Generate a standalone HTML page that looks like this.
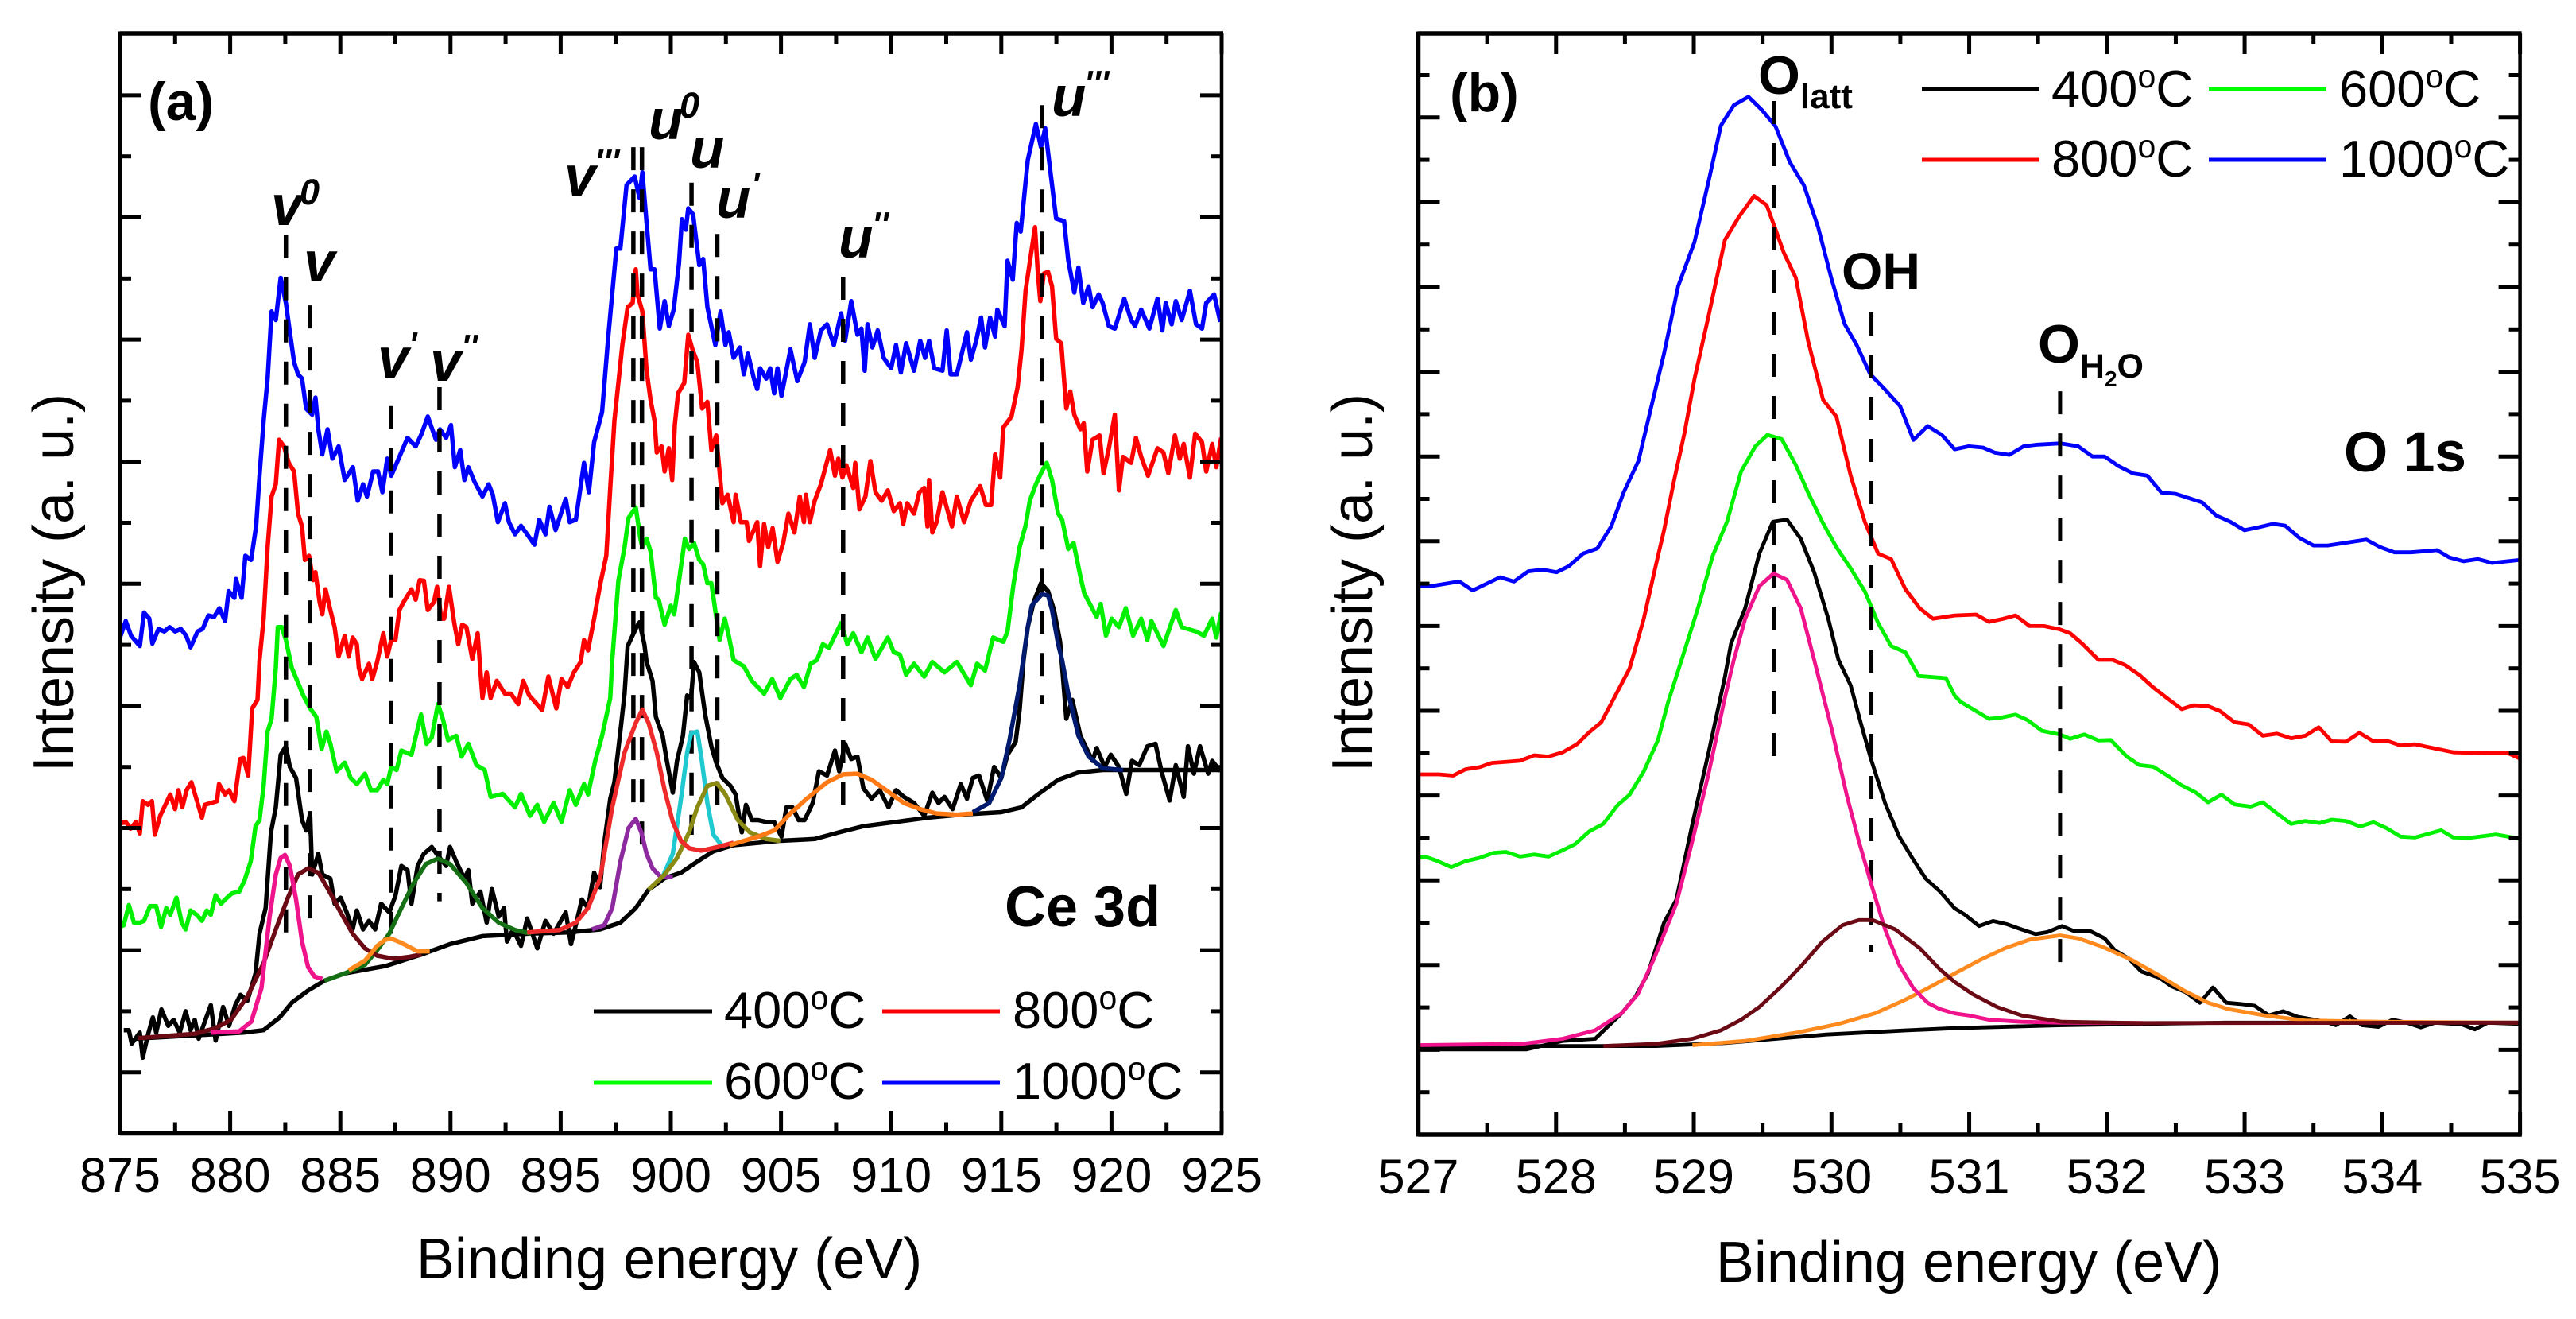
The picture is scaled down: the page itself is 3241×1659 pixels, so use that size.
<!DOCTYPE html>
<html lang="en">
<head>
<meta charset="utf-8">
<title>Ce 3d and O 1s XPS spectra</title>
<style>
html,body{margin:0;padding:0;background:#fff;}
svg{display:block;}
text{font-family:"Liberation Sans",sans-serif;fill:#000;}
.b{font-weight:bold;}
.pk{font-weight:bold;font-style:italic;font-size:71px;}
.tick{font-size:61px;text-anchor:middle;}
.title{font-size:72px;}
.leg{font-size:65px;}
</style>
</head>
<body>
<svg id="fig" xmlns="http://www.w3.org/2000/svg" width="3241" height="1659" viewBox="0 0 3241 1659">
  <rect x="0" y="0" width="3241" height="1659" fill="#fff"/>
  <g id="panelA"></g>
  <g id="panelB"></g>

  <g>
    <text class="title" x="842" y="1608" text-anchor="middle">Binding energy (eV)</text>
    <text class="title" text-anchor="middle" transform="translate(92,733) rotate(-90)">Intensity (a. u.)</text>
    <text class="b" font-size="68" x="186" y="151">(a)</text>
    <text class="b" font-size="72" x="1264" y="1165">Ce 3d</text>
    <text class="pk" x="341" y="283">v</text>
    <text class="pk" style="font-size:45px" x="377" y="257">0</text>
    <text class="pk" x="382" y="354">v</text>
    <text class="pk" x="475" y="475">v</text>
    <text class="pk" style="font-size:44px" x="514" y="448">'</text>
    <text class="pk" x="541" y="479">v</text>
    <text class="pk" style="font-size:44px" x="580" y="451">''</text>
    <text class="pk" x="710" y="246">v</text>
    <text class="pk" style="font-size:44px" x="748" y="218">'''</text>
    <text class="pk" x="816" y="175">u</text>
    <text class="pk" style="font-size:45px" x="855" y="148">0</text>
    <text class="pk" x="868" y="211">u</text>
    <text class="pk" x="901" y="274">u</text>
    <text class="pk" style="font-size:44px" x="945" y="247">'</text>
    <text class="pk" x="1055" y="324">u</text>
    <text class="pk" style="font-size:44px" x="1097" y="297">''</text>
    <text class="pk" x="1323" y="146">u</text>
    <text class="pk" style="font-size:44px" x="1364" y="119">'''</text>
  </g>
  <g>
    <line x1="747" y1="1272" x2="896" y2="1272" stroke="#000" stroke-width="5"/>
    <text class="leg" x="911" y="1293">400<tspan font-size="41" dy="-24">o</tspan><tspan dy="24">C</tspan></text>
    <line x1="1110" y1="1272" x2="1258" y2="1272" stroke="#f00" stroke-width="5"/>
    <text class="leg" x="1274" y="1293">800<tspan font-size="41" dy="-24">o</tspan><tspan dy="24">C</tspan></text>
    <line x1="747" y1="1362" x2="896" y2="1362" stroke="#0f0" stroke-width="5"/>
    <text class="leg" x="911" y="1382">600<tspan font-size="41" dy="-24">o</tspan><tspan dy="24">C</tspan></text>
    <line x1="1110" y1="1362" x2="1258" y2="1362" stroke="#00f" stroke-width="5"/>
    <text class="leg" x="1274" y="1382">1000<tspan font-size="41" dy="-24">o</tspan><tspan dy="24">C</tspan></text>
  </g>

  <g>
    <text class="title" x="2477" y="1612" text-anchor="middle">Binding energy (eV)</text>
    <text class="title" text-anchor="middle" transform="translate(1726,733) rotate(-90)">Intensity (a. u.)</text>
    <text class="b" font-size="68" x="1824" y="140">(b)</text>
    <text class="b" font-size="71" x="2949" y="593">O 1s</text>
    <text class="b" font-size="68" x="2212" y="118">O<tspan font-size="44" dy="18">latt</tspan></text>
    <text class="b" font-size="66" x="2317" y="364">OH</text>
    <text class="b" font-size="68" x="2564" y="456">O<tspan font-size="43" dy="19">H</tspan><tspan font-size="28" dy="11">2</tspan><tspan font-size="43" dy="-11">O</tspan></text>
  </g>
  <g>
    <line x1="2418" y1="112" x2="2566" y2="112" stroke="#000" stroke-width="5"/>
    <text class="leg" x="2581" y="134">400<tspan font-size="41" dy="-24">o</tspan><tspan dy="24">C</tspan></text>
    <line x1="2779" y1="112" x2="2927" y2="112" stroke="#0f0" stroke-width="5"/>
    <text class="leg" x="2943" y="134">600<tspan font-size="41" dy="-24">o</tspan><tspan dy="24">C</tspan></text>
    <line x1="2418" y1="201" x2="2566" y2="201" stroke="#f00" stroke-width="5"/>
    <text class="leg" x="2581" y="222">800<tspan font-size="41" dy="-24">o</tspan><tspan dy="24">C</tspan></text>
    <line x1="2779" y1="201" x2="2927" y2="201" stroke="#00f" stroke-width="5"/>
    <text class="leg" x="2943" y="222">1000<tspan font-size="41" dy="-24">o</tspan><tspan dy="24">C</tspan></text>
  </g>
</svg>
<script>
// ---------- Panel (a) Ce 3d: binding energy (eV) and intensity (a.u.) ----------
const ceE1000=[875,875.26,875.5,875.9,876.09,876.33,876.47,876.75,877.01,877.25,877.5,877.76,878,878.2,878.52,878.75,879.01,879.27,879.51,879.77,879.93,880.19,880.26,880.52,880.69,880.95,881.18,881.33,881.52,881.7,881.88,882.07,882.29,882.53,882.71,882.9,883.08,883.26,883.45,883.72,883.87,884,884.18,884.42,884.64,884.92,885.2,885.57,885.79,886.03,886.21,886.49,886.71,886.91,887.13,887.31,887.68,888.05,888.42,888.69,888.97,889.34,889.52,889.8,890.02,890.2,890.44,890.63,890.81,891.09,891.45,891.73,891.92,892.15,892.47,892.65,892.93,893.2,893.48,893.81,894.03,894.31,894.49,894.77,895.23,895.41,895.69,896.06,896.28,896.52,896.88,897.16,897.53,897.71,897.99,898.36,898.58,898.71,898.9,899.08,899.26,899.5,899.72,899.91,900.13,900.37,900.5,900.68,900.79,901.01,901.29,901.47,901.66,902.02,902.26,902.48,902.63,902.85,903.13,903.31,903.5,903.77,903.92,904.05,904.33,904.51,904.69,904.84,905.02,905.43,905.74,906.07,906.31,906.53,906.81,907.09,907.4,907.73,907.91,908.19,908.47,908.65,908.8,908.93,909.15,909.39,909.66,910,910.22,910.44,910.68,911.04,911.32,911.54,911.72,911.96,912.33,912.52,912.7,912.98,913.44,913.62,913.86,914.08,914.26,914.49,914.72,914.82,915.15,915.28,915.52,915.7,915.88,916.2,916.57,916.8,916.99,917.21,917.49,917.85,918.04,918.31,918.5,918.72,918.96,919.14,919.42,919.6,919.88,920.15,920.58,920.89,921.07,921.35,921.72,922.09,922.31,922.46,922.73,922.92,923.19,923.56,923.84,924.11,924.3,924.66,924.94];
const ceI1000=[8.12,8.39,8.15,7.98,8.53,8.43,8.02,8.26,8.22,8.29,8.22,8.26,8.15,7.96,8.22,8.26,8.48,8.46,8.6,8.39,8.88,8.77,9.08,8.77,9.46,9.39,9.95,10.77,11.67,12.36,13.46,13.32,14.01,13.6,13.12,12.63,12.43,12.36,11.87,11.77,12.05,11.53,11.12,11.53,11.05,11.25,10.7,10.91,10.36,10.63,10.43,10.84,10.84,10.5,11.05,10.77,11.08,11.39,11.25,11.46,11.74,11.36,11.53,11.39,11.6,10.91,11.19,10.7,10.91,10.67,10.43,10.63,10.46,10.01,10.32,10.01,9.81,9.95,9.81,9.64,10.05,9.81,10.26,9.88,10.39,10.01,10.05,10.98,10.5,11.32,11.81,13.05,14.49,14.49,15.53,15.67,15.32,15.74,14.91,14.15,14.15,13.18,13.63,13.22,13.49,14.25,14.97,14.8,15.15,15.05,14.22,14.32,13.53,12.91,13.46,12.91,13.12,12.7,12.87,12.43,12.77,12.36,12.19,12.53,12.36,12.53,12.12,12.53,12.08,12.84,12.32,12.63,13.25,12.7,13.15,13.25,12.91,13.43,12.98,13.63,13.08,13.18,12.49,13.25,12.87,13.15,12.7,12.53,12.91,12.46,12.94,12.49,12.98,12.7,12.98,12.53,12.49,13.15,12.43,12.43,13.12,12.67,12.98,13.36,12.87,13.36,13.05,13.49,13.22,14.29,13.98,14.91,14.77,15.94,16.53,16.15,16.46,15.8,14.98,14.94,14.29,13.77,14.18,13.6,13.87,13.53,13.74,13.6,13.22,13.18,13.67,13.32,13.22,13.49,13.18,13.67,13.15,13.6,13.25,13.63,13.32,13.8,13.25,13.18,13.6,13.74,13.29];

const ceE800=[875,875.26,875.48,875.72,875.9,876.03,876.27,876.45,876.58,876.82,877.28,877.5,877.65,877.83,878.02,878.24,878.52,878.72,878.85,879.4,879.49,879.77,879.95,880.19,880.45,880.6,880.82,881,881.24,881.33,881.52,881.7,881.88,882.07,882.22,882.44,882.66,882.9,883.08,883.26,883.39,883.58,883.76,883.87,884.06,884.18,884.33,884.5,884.74,884.92,885.2,885.38,885.56,885.75,885.84,885.99,886.3,886.45,886.67,886.95,887.13,887.31,887.5,887.68,887.87,888.23,888.42,888.6,888.79,888.97,889.25,889.39,889.58,889.71,889.93,890.17,890.35,890.53,890.72,890.99,891.23,891.45,891.64,891.82,892.1,892.47,892.74,893.07,893.3,893.57,893.85,894.16,894.44,894.8,895.04,895.32,895.6,895.91,896.06,896.24,896.52,896.79,897.07,897.25,897.44,897.62,897.8,898.04,898.27,898.41,898.49,898.71,898.9,899.08,899.26,899.36,899.58,899.72,899.91,900.06,900.18,900.33,900.61,900.79,900.98,901.2,901.42,901.66,901.84,902.06,902.21,902.34,902.58,902.85,902.94,903.18,903.44,903.55,903.92,904.05,904.23,904.42,904.62,904.84,905.1,905.34,905.61,905.85,906.04,906.13,906.31,906.53,906.81,907.23,907.45,907.6,907.79,907.97,908.28,908.37,908.56,908.83,909.06,909.29,909.57,909.85,910.12,910.4,910.55,910.73,911.04,911.28,911.5,911.65,911.72,911.87,912.06,912.33,912.76,912.98,913.31,913.62,914.04,914.3,914.54,914.72,914.95,915.09,915.46,915.74,915.92,916.1,916.33,916.53,916.66,916.77,916.93,917.12,917.3,917.49,917.72,917.95,918.13,918.31,918.59,918.74,918.9,919.14,919.46,919.64,919.88,920.15,920.34,920.52,920.89,921.11,921.35,921.66,922.09,922.36,922.58,922.88,923.1,923.28,923.56,923.8,924.11,924.3,924.57,924.76,924.98];
const ceI800=[5.07,5.1,4.99,5.1,4.91,5.44,5.38,5.44,4.89,5.2,5.55,5.31,5.62,5.34,5.62,5.75,5.41,5.17,5.38,5.44,5.72,5.55,5.62,5.44,6.13,6.15,5.86,6.96,7.1,7.75,8.43,9.6,10.43,10.63,11.36,11.25,10.98,10.84,10.15,9.94,9.39,9.46,9.06,9.19,8.7,8.5,8.91,8.64,8.29,7.81,8.15,7.81,8.12,8.01,7.62,7.44,7.69,7.44,7.72,8.19,7.81,8.08,8.08,8.57,8.7,8.91,8.74,9.06,9.05,8.57,8.7,8.95,8.43,8.43,8.95,8.36,8.01,8.33,8.29,7.77,8.19,7.13,7.55,7.13,7.41,7.2,7.2,7.03,7.41,7.17,7.06,6.93,7.48,6.96,7.44,7.31,7.55,7.72,8.08,7.91,8.43,8.98,9.46,10.57,11.67,12.29,12.91,13.53,13.6,14.15,13.74,13.46,12.49,12.01,11.67,11.15,11.25,10.84,11.22,10.7,11.6,12.12,12.29,13.08,12.84,12.63,11.87,11.98,11.19,11.43,10.84,10.32,10.46,10.01,10.46,10.01,10.01,9.7,10.01,9.29,9.98,9.6,9.91,9.36,9.67,10.15,9.84,10.43,10.01,10.46,10.01,10.36,10.63,11.19,10.77,11.05,10.74,10.94,10.57,10.98,10.22,10.43,11.01,10.5,10.36,10.53,10.19,10.32,9.98,10.32,10.15,10.5,10.57,9.94,10.7,9.84,10.01,10.5,9.94,10.43,10.01,10.36,10.6,10.29,10.29,11.12,10.74,11.56,11.74,12.22,12.84,13.8,14.36,14.84,14.08,13.63,14.08,14.11,13.87,13.01,12.94,11.87,12.15,11.77,11.53,11.63,10.84,11.36,11.43,10.81,11.22,11.77,10.53,11.08,10.98,11.39,11.08,10.77,11.22,11.15,10.81,11.43,11.05,11.29,10.74,11.46,11.32,10.84,11.29,10.91,11.39];

const ceE600=[875,875.17,875.4,875.63,875.9,876.09,876.36,876.64,876.86,877.1,877.28,877.56,877.8,877.98,878.2,878.48,878.72,878.94,879.12,879.34,879.58,879.86,880.08,880.41,880.65,880.93,881.15,881.33,881.52,881.7,881.88,882.07,882.16,882.34,882.53,882.8,883.08,883.32,883.63,883.91,884.15,884.37,884.55,884.83,885.2,885.47,885.75,886.12,886.39,886.67,886.95,887.13,887.31,887.55,887.77,888.23,888.66,888.91,889.15,889.43,889.65,889.89,890.26,890.5,890.81,891.18,891.55,891.82,892.37,892.93,893.2,893.61,893.94,894.25,894.68,895.04,895.41,895.69,896.06,896.24,896.57,896.88,897.25,897.34,897.62,897.9,898.08,898.41,898.62,898.71,898.9,899.08,899.32,899.45,899.72,900,900.15,900.37,900.64,900.83,901.05,901.29,901.47,901.66,901.84,902.21,902.45,902.63,902.85,903.31,903.68,904.23,904.6,904.97,905.43,905.71,906.04,906.35,906.63,906.9,907.18,907.73,908.01,908.28,908.65,908.93,909.29,909.85,910.12,910.4,910.68,911.04,911.5,911.87,912.42,912.98,913.62,913.9,914.26,914.63,915.09,915.28,915.55,915.83,916.1,916.29,916.57,916.84,917.06,917.3,917.58,917.76,918.04,918.28,918.59,918.77,919.33,919.51,919.75,920.01,920.34,920.65,920.98,921.35,921.63,921.81,922.36,922.92,923.19,923.84,924.2,924.57,924.76,924.98];
const ceI600=[3.38,3.41,3.74,3.45,3.45,3.48,3.72,3.72,3.38,3.69,3.58,3.86,3.45,3.34,3.65,3.58,3.48,3.65,3.58,3.9,3.76,3.86,3.93,3.96,4.14,4.45,5.03,5.13,5.69,6.58,6.79,7.62,8.29,8.29,8.08,7.62,7.38,7.17,6.96,6.82,6.29,6.58,6.38,5.93,6.07,5.82,5.72,5.89,5.62,5.62,5.79,5.72,6,5.95,6.27,6.2,6.86,6.38,6.48,7.03,6.79,6.44,6.51,6.17,6.38,6.03,5.95,5.51,5.56,5.34,5.56,5.2,5.38,5.1,5.41,5.1,5.62,5.38,5.72,5.55,6.1,6.51,7.13,7.75,9.05,9.6,10.08,10.25,9.74,9.6,9.74,9.53,8.77,8.74,8.33,8.64,8.5,9.05,9.74,9.57,9.67,9.39,9.32,9.01,9.01,8.08,8.43,8.15,7.75,7.65,7.41,7.2,7.44,7.13,7.44,7.51,7.31,7.69,7.75,8.01,7.95,8.36,8.01,8.19,7.88,8.12,7.77,8.12,7.88,7.84,7.51,7.69,7.48,7.72,7.55,7.72,7.34,7.69,7.58,8.12,8.05,8.22,8.98,9.6,9.95,10.36,10.63,10.84,10.98,10.7,10.15,10.05,9.57,9.67,9.12,8.84,8.46,8.67,8.15,8.43,8.29,8.6,8.15,8.43,8.08,8.39,7.98,8.57,8.29,8.22,8.15,8.43,8.12,8.53];

const ceE400=[875.17,875.4,875.53,875.9,876.03,876.27,876.49,876.64,876.88,877.19,877.43,877.71,877.98,878.2,878.39,878.57,878.85,879.12,879.34,879.68,879.95,880.23,880.47,880.78,881.15,881.33,881.61,881.85,882.07,882.29,882.53,882.71,882.99,883.26,883.45,883.63,883.72,884,884.18,884.55,884.74,885.01,885.29,885.56,885.75,886.03,886.3,886.58,886.85,887.22,887.5,887.77,888.05,888.23,888.51,888.79,889.15,889.43,889.8,889.98,890.26,890.63,890.81,890.99,891.36,891.64,891.88,892.19,892.43,892.56,892.84,893.2,893.48,893.94,894.31,894.68,895.23,895.47,895.69,895.96,896.24,896.52,896.79,896.98,897.25,897.44,897.71,897.9,898.04,898.44,898.58,898.8,898.9,899.17,899.32,899.63,899.82,900.09,900.28,900.55,900.74,900.92,901.05,901.29,901.56,901.84,902.06,902.34,902.71,902.94,903.22,903.41,903.68,903.96,904.33,904.69,905.02,905.25,905.52,905.8,906.07,906.44,906.72,907.09,907.45,907.64,907.91,908.19,908.47,908.74,909.11,909.48,909.88,910.22,910.58,911.04,911.5,911.87,912.15,912.42,912.79,913.16,913.44,913.71,913.99,914.36,914.67,915,915.28,915.65,915.83,916.01,916.2,916.47,916.8,917.12,917.39,917.67,917.95,918.22,918.59,919.14,919.33,919.69,919.97,920.34,920.67,920.93,921.26,921.63,922,922.27,922.64,922.92,923.28,923.47,923.74,924.02,924.39,924.57,924.94];
const ceI400=[1.69,1.69,1.47,1.65,1.24,1.62,1.9,1.65,2.03,1.76,1.86,1.65,2,1.69,1.86,1.55,1.83,2.1,1.52,2.07,1.76,2.1,2.27,2.17,2.62,3.27,3.69,4.93,5.34,6.2,6.34,6,5.82,5.13,4.96,5.24,4.24,4.58,4.24,4.17,3.76,3.86,3.62,3.34,3.65,3.34,3.48,3.34,3.76,3.62,3.89,4.38,4.31,3.76,4.38,4.58,4.69,4.55,4.38,4.69,4.45,4.17,4.31,3.76,3.96,3.45,4,3.55,3.69,3.14,3.34,3.07,3.52,3.03,3.48,3.27,3.62,3.1,3.41,3.83,3.69,4.27,4.03,4.76,5.48,5.75,6.58,7.2,7.98,8.29,8.37,8.01,7.72,7.41,6.82,6.51,6.1,5.58,6.1,6.51,7.17,7.13,7.72,7.55,6.86,6.34,6.07,5.82,5.69,5.55,4.93,5.38,5.13,5.13,5.1,5.1,4.86,5.34,5.34,5.13,5.13,5.41,5.93,5.86,6.27,5.93,6.38,6.13,6.17,5.65,5.48,5.62,5.34,5.62,5.51,5.41,5.2,5.58,5.41,5.51,5.31,5.72,5.48,5.82,5.86,5.45,6,5.82,6.2,6.41,6.93,7.75,8.29,8.7,9.01,8.88,8.57,8.05,6.79,7.1,6.51,6.1,6.31,6,6.2,6,5.56,6.1,6.03,6.34,6.38,5.93,5.45,6.03,5.51,6.34,5.89,6.34,5.89,6.1,5.93];

// fitted components, panel (a)
const ceBaseE=[875.63,880.6,881.52,882.25,882.8,883.54,884.28,885.2,887.04,888.69,889.98,891.45,893.48,895.32,896.79,897.71,898.41,898.99,899.72,900.46,901.2,901.93,902.85,904.88,906.53,907.64,908.74,910.22,911.69,913.16,915,915.92,916.66,917.58,918.5,919.6,921.44,924.94];
const ceBaseI=[1.55,1.65,1.69,1.9,2.14,2.34,2.5,2.62,2.74,2.93,3.1,3.23,3.27,3.29,3.34,3.45,3.69,3.99,4.18,4.27,4.45,4.62,4.72,4.79,4.82,4.93,5.03,5.1,5.17,5.22,5.26,5.34,5.55,5.79,5.91,5.95,5.95,5.95];
const ceFitPinkE=[879.12,880.41,880.96,881.42,881.79,882.07,882.29,882.49,882.71,882.99,883.26,883.54,883.82,884.18];
const ceFitPinkI=[1.65,1.67,1.83,2.38,3.55,4.24,4.51,4.56,4.38,3.83,3.14,2.72,2.57,2.53];
const ceFitMaroonE=[875.81,878.39,879.31,880.04,880.78,881.52,882.07,882.62,883.08,883.54,884,884.46,885.01,885.56,886.12,886.67,887.41,888.14,888.69];
const ceFitMaroonI=[1.56,1.63,1.72,1.86,2.24,2.79,3.34,3.86,4.24,4.34,4.27,3.99,3.62,3.27,3.03,2.91,2.86,2.89,2.93];
const ceFitOrangeE=[885.38,886.12,886.67,887.04,887.31,887.77,888.51,889.06];
const ceFitOrangeI=[2.67,2.83,3.07,3.17,3.19,3.12,2.98,2.98];
const ceFitGreenE=[884.28,885.2,886.12,886.67,887.22,887.77,888.33,888.88,889.43,889.98,890.72,891.45,892.19,892.93,893.66];
const ceFitGreenI=[2.5,2.62,2.76,3,3.27,3.69,4.1,4.41,4.5,4.41,4.1,3.69,3.45,3.33,3.27];
const ceFitRedE=[893.48,894.95,895.69,896.24,896.79,897.34,897.9,898.41,898.71,898.99,899.36,899.72,900.09,900.46,900.83,901.38,902.12,902.85];
const ceFitRedI=[3.29,3.33,3.45,3.69,4.17,5.34,6.24,6.72,6.94,6.72,6.24,5.62,5.1,4.79,4.67,4.63,4.69,4.76];
const ceFitPurpleE=[896.42,896.98,897.34,897.71,898.08,898.41,898.66,898.9,899.17,899.54,900.09];
const ceFitPurpleI=[3.34,3.41,3.69,4.45,5,5.15,4.93,4.58,4.34,4.2,4.2];
const ceFitCyanE=[899.63,900.09,900.46,900.74,900.92,901.2,901.38,901.66,901.93,902.3];
const ceFitCyanI=[4.2,4.58,5.48,6.24,6.55,6.58,6.17,5.41,4.89,4.72];
const ceFitOliveE=[898.99,899.72,900.28,900.83,901.2,901.66,902.08,902.48,903.04,903.59,904.33,904.97];
const ceFitOliveI=[3.99,4.24,4.51,4.93,5.34,5.69,5.74,5.55,5.13,4.93,4.82,4.79];
const ceFitOrange2E=[902.67,903.96,904.69,905.43,906.17,907.09,907.82,908.47,909.11,909.85,910.58,911.32,912.06,912.98,913.71];
const ceFitOrange2I=[4.72,4.86,4.96,5.24,5.48,5.75,5.88,5.89,5.79,5.6,5.41,5.31,5.24,5.22,5.24];
const ceFitNavyE=[913.71,914.45,915,915.37,915.83,916.2,916.38,916.84,917.12,917.3,917.58,917.76,918.04,918.5,918.96,919.6,920.52];
const ceFitNavyI=[5.26,5.41,5.82,6.44,7.34,8.29,8.64,8.83,8.81,8.57,8.01,7.75,7.2,6.51,6.17,5.98,5.95];

const cePeakE=[882.53,883.62,887.3,889.5,898.3,898.69,900.94,902.11,907.82,916.84];
const cePeakTop=[14.71,13.56,11.91,12.22,16.15,16.15,15.57,14.73,14.03,16.84];
const cePeakBottom=[3.27,3.51,3.27,3.8,5.41,4.72,4.89,5.38,5.38,7.03];
const ceMajorTicks=[875,880,885,890,895,900,905,910,915,920,925];
const ceMinorTicks=[877.5,882.5,887.5,892.5,897.5,902.5,907.5,912.5,917.5,922.5];
const ceYMajor=[1,3,5,7,9,11,13,15,17];
const ceYMinor=[2,4,6,8,10,12,14,16];

// ---------- Panel (b) O 1s ----------
const oE1000=[527,527.091,527.297,527.395,527.592,527.695,527.798,527.901,528.004,528.092,528.196,528.299,528.402,528.49,528.599,528.696,528.784,528.887,529.005,529.108,529.197,529.291,529.397,529.497,529.594,529.697,529.8,529.903,529.998,530.095,530.183,530.28,530.389,530.498,530.595,530.698,530.801,530.894,530.997,531.1,531.188,531.292,531.395,531.498,531.665,531.792,531.895,531.983,532.087,532.19,532.293,532.396,532.499,532.69,532.793,532.896,532.999,533.102,533.205,533.294,533.397,533.5,533.603,533.883,533.986,534.089,534.207,534.398,534.486,534.59,534.693,534.796,535];
const oI1000=[12.94,12.94,13.05,12.84,13.15,13.05,13.29,13.33,13.27,13.41,13.71,13.83,14.36,15.15,15.9,17.24,18.43,20.02,21.06,22.5,23.81,24.29,24.49,24.17,23.79,22.95,22.4,21.41,20.22,19.13,18.63,17.95,17.58,17.19,16.39,16.72,16.51,16.17,16.24,16.21,16.09,16.04,16.24,16.28,16.31,16.24,16,16,15.77,15.6,15.55,15.15,15.12,14.92,14.61,14.46,14.26,14.33,14.41,14.37,14.08,13.9,13.9,14.04,13.86,13.74,13.74,13.79,13.62,13.53,13.58,13.49,13.56];
const oE800=[527,527.15,527.253,527.342,527.445,527.533,527.739,527.842,527.945,528.048,528.151,528.24,528.328,528.431,528.534,528.637,528.726,528.784,528.858,528.932,529.005,529.108,529.226,529.329,529.438,529.529,529.594,529.653,529.741,529.83,529.939,530.036,530.139,530.242,530.339,530.433,530.536,530.64,530.737,530.894,531.05,531.144,531.247,531.336,531.439,531.542,531.66,531.733,531.822,531.939,532.042,532.131,532.234,532.337,532.44,532.543,532.631,532.734,532.823,532.926,533.029,533.132,533.235,533.338,533.441,533.538,533.632,533.736,533.833,533.936,534.045,534.133,534.236,534.516,534.766,534.913,535];
const oI800=[8.5,8.5,8.47,8.62,8.67,8.77,8.82,8.95,8.92,9.02,9.21,9.49,9.73,10.36,11,12.17,13.46,14.26,15.45,16.54,17.83,19.32,21.11,21.66,22.15,21.93,21.36,20.81,20.22,18.73,17.34,16.94,15.55,14.46,13.71,13.58,12.87,12.42,12.17,12.25,12.27,12.1,12.17,12.25,12,12,11.92,11.83,11.58,11.2,11.2,11.08,10.85,10.55,10.29,10.04,10.13,10.11,9.99,9.73,9.68,9.41,9.46,9.35,9.41,9.61,9.28,9.27,9.48,9.28,9.28,9.18,9.21,9.02,9,9,8.87];
const oE600=[527,527.047,527.135,527.239,527.342,527.445,527.548,527.636,527.739,527.842,527.945,528.048,528.137,528.24,528.343,528.446,528.534,528.637,528.74,528.814,528.902,529.035,529.138,529.241,529.344,529.447,529.535,529.638,529.741,529.83,529.933,530.036,530.139,530.242,530.339,530.433,530.536,530.634,530.831,530.894,530.938,531.041,531.144,531.233,531.336,531.424,531.527,531.66,531.733,531.836,531.939,532.028,532.145,532.234,532.337,532.44,532.543,532.646,532.734,532.832,532.926,533.044,533.132,533.235,533.338,533.441,533.544,533.632,533.736,533.839,533.936,534.03,534.133,534.236,534.427,534.516,534.634,534.825,535];
const oI600=[6.53,6.56,6.46,6.31,6.45,6.53,6.65,6.67,6.56,6.61,6.56,6.71,6.85,7.15,7.33,7.77,8.02,8.57,9.31,10.21,11.1,12.47,13.66,14.46,15.65,16.24,16.51,16.41,15.8,15.15,14.46,13.86,13.36,12.82,12.07,11.53,11.38,10.82,10.77,10.36,10.21,10.01,9.81,9.84,9.91,9.78,9.53,9.44,9.34,9.44,9.3,9.31,8.92,8.72,8.68,8.47,8.24,8.07,7.84,8.02,7.79,7.74,7.84,7.58,7.33,7.4,7.35,7.43,7.4,7.27,7.37,7.23,7.03,7.01,7.18,7.01,7,7.08,6.98];
const oE400=[527,527.283,527.783,528.048,528.284,528.475,528.578,528.667,528.784,528.873,528.99,529.108,529.226,529.27,529.373,529.476,529.574,529.677,529.777,529.874,529.977,530.051,530.139,530.213,530.286,530.389,530.492,530.595,530.684,530.787,530.894,530.968,531.071,531.174,531.277,531.38,531.483,531.571,531.674,531.763,531.88,531.983,532.057,532.16,532.249,532.381,532.469,532.572,532.675,532.77,532.867,532.97,533.073,533.176,533.279,533.382,533.588,533.662,533.765,533.853,533.971,534.074,534.177,534.28,534.383,534.575,534.672,534.766,535];
const oI400=[2.01,2.01,2.01,2.21,2.26,2.86,3.26,3.8,5,5.54,7.33,9.02,10.8,11.58,12.42,13.71,14.46,14.51,14.06,13.27,12.17,11.2,10.6,9.71,8.87,7.82,7.03,6.48,6.04,5.74,5.34,5.19,4.92,5.04,4.96,4.84,4.73,4.78,4.92,4.8,4.8,4.63,4.35,4.15,3.85,3.7,3.5,3.36,3.11,3.47,3.11,3.08,3.04,2.81,2.91,2.78,2.66,2.58,2.79,2.58,2.54,2.71,2.64,2.53,2.64,2.6,2.48,2.64,2.61];
const oBaseE=[527,528.726,529.226,529.962,530.551,530.894,531.674,532.852,535];
const oBaseI=[2.09,2.09,2.16,2.36,2.46,2.51,2.58,2.64,2.64];
const oFitPinkE=[527,527.754,528.048,528.284,528.475,528.593,528.711,528.873,528.99,529.108,529.226,529.291,529.373,529.476,529.579,529.677,529.777,529.874,530.006,530.11,530.198,530.286,530.389,530.492,530.595,530.698,530.787,530.894,530.997,531.144,531.38,531.674,532.263];
const oFitPinkI=[2.11,2.14,2.26,2.46,2.86,3.31,4.15,5.44,6.93,8.52,10.31,11.2,12.17,12.94,13.24,13.09,12.42,11.2,9.51,8.02,6.93,5.94,4.84,4,3.45,3.11,2.96,2.86,2.81,2.71,2.66,2.64,2.63];
const oFitMaroonE=[528.343,528.726,528.99,529.197,529.344,529.476,529.638,529.786,529.933,530.08,530.198,530.301,530.463,530.64,530.787,530.894,531.027,531.203,531.38,531.674,532.263,535];
const oFitMaroonI=[2.09,2.14,2.26,2.46,2.71,3.01,3.5,4,4.55,4.94,5.06,5.06,4.84,4.4,3.9,3.6,3.31,3.01,2.81,2.66,2.63,2.64];
const oFitOrangeE=[528.99,529.373,529.756,530.051,530.316,530.522,530.698,530.894,531.085,531.262,531.439,531.66,531.792,531.969,532.175,532.381,532.558,532.734,532.882,533.147,533.441,533.971,535];
const oFitOrangeI=[2.11,2.21,2.41,2.61,2.86,3.16,3.45,3.8,4.13,4.4,4.6,4.7,4.63,4.43,4.13,3.75,3.4,3.11,2.96,2.81,2.69,2.66,2.64];
const oPeakE=[529.58,530.29,531.66];
const oPeakTop=[24.39,19.4,17.54];
const oPeakBottom=[8.87,4.3,4];
const oMajorTicks=[527,528,529,530,531,532,533,534,535];
const oMinorTicks=[527.5,528.5,529.5,530.5,531.5,532.5,533.5,534.5];
const oYMajor=[2,4,6,8,10,12,14,16,18,20,22,24];
const oYMinor=[1,3,5,7,9,11,13,15,17,19,21,23,25];

// ---------- axis functions ----------
const NS='http://www.w3.org/2000/svg';
const axA={x:e=>151+(e-875)*(1537-151)/50,y:v=>1425.5-v*76.8,l:151,r:1537,t:42,b:1425.5};
const axB={x:e=>1784.5+(e-527)*(3170.6-1784.5)/8,y:v=>1427-v*53.3,l:1784.5,r:3170.6,t:42,b:1427};

function addLine(g,x1,y1,x2,y2,w,name,dash){
  const el=document.createElementNS(NS,'line');
  
  
  el.setAttribute('x1',x1);el.setAttribute('y1',y1);el.setAttribute('x2',x2);el.setAttribute('y2',y2);
  el.setAttribute('stroke','#000');el.setAttribute('stroke-width',w);
  if(dash)el.setAttribute('stroke-dasharray',dash);
  g.appendChild(el);
}
function addSeries(g,ax,xs,ys,color,w,name){
  const el=document.createElementNS(NS,'polyline');
  
  
  el.setAttribute('points',xs.map((e,i)=>ax.x(e).toFixed(1)+','+ax.y(ys[i]).toFixed(1)).join(' '));
  el.setAttribute('fill','none');el.setAttribute('stroke',color);el.setAttribute('stroke-width',w);
  el.setAttribute('stroke-linejoin','round');
  g.appendChild(el);
}
function addTickLabel(g,x,y,label,name){
  const el=document.createElementNS(NS,'text');
  
  
  el.setAttribute('class','tick');el.setAttribute('x',x);el.setAttribute('y',y);
  el.textContent=label;
  g.appendChild(el);
}
function drawAxes(g,ax,xMaj,xMin,yMaj,yMin,labelY,lenY,tag){
  xMaj.forEach(t=>{const x=ax.x(t);
    addLine(g,x,ax.b,x,ax.b-28,5,'x-tick-major-'+tag);
    addLine(g,x,ax.t,x,ax.t+26,5,'top-tick-major-'+tag);
    addTickLabel(g,x,labelY,String(t),'x-tick-label-'+tag);});
  xMin.forEach(t=>{const x=ax.x(t);
    addLine(g,x,ax.b,x,ax.b-14,5,'x-tick-minor-'+tag);
    addLine(g,x,ax.t,x,ax.t+13,5,'top-tick-minor-'+tag);});
  yMaj.forEach(t=>{const y=ax.y(t);
    addLine(g,ax.l,y,ax.l+27,y,5,'y-tick-major-'+tag);
    addLine(g,ax.r,y,ax.r-27,y,5,'right-tick-major-'+tag);});
  yMin.forEach(t=>{const y=ax.y(t);
    addLine(g,ax.l,y,ax.l+14,y,5,'y-tick-minor-'+tag);
    addLine(g,ax.r,y,ax.r-14,y,5,'right-tick-minor-'+tag);});
  addLine(g,ax.l,ax.t-2.5,ax.l,ax.b+2.5,5.5,'axis-left-'+tag);
  addLine(g,ax.l,ax.t,ax.r+2,ax.t,5.5,'axis-top-'+tag);
  addLine(g,ax.l,ax.b,ax.r+2,ax.b,5.5,'axis-bottom-'+tag);
  addLine(g,ax.r,ax.t,ax.r,ax.b+2.5,4.5,'axis-right-'+tag);
}

const gA=document.getElementById('panelA');
const gB=document.getElementById('panelB');

addSeries(gA,axA,ceE1000,ceI1000,'#0000ff',5.5,'ce3d-series-1000c');
addSeries(gA,axA,ceE800,ceI800,'#ff0000',5.5,'ce3d-series-800c');
addSeries(gA,axA,ceE600,ceI600,'#00f000',5.5,'ce3d-series-600c');
addSeries(gA,axA,ceE400,ceI400,'#000000',5.5,'ce3d-series-400c');
cePeakE.forEach((e,i)=>addLine(gA,axA.x(e),axA.y(cePeakTop[i]),axA.x(e),axA.y(cePeakBottom[i]),5.5,'ce3d-peak-marker','29 24'));
addSeries(gA,axA,ceBaseE,ceBaseI,'#000000',5.5,'ce3d-fit-background');
addSeries(gA,axA,ceFitGreenE,ceFitGreenI,'#157015',5.5,'ce3d-fit-v2');
addSeries(gA,axA,ceFitMaroonE,ceFitMaroonI,'#6b0a14',5.5,'ce3d-fit-v');
addSeries(gA,axA,ceFitPinkE,ceFitPinkI,'#f0148c',5.5,'ce3d-fit-v0');
addSeries(gA,axA,ceFitOrangeE,ceFitOrangeI,'#ff8a1e',5.5,'ce3d-fit-v1');
addSeries(gA,axA,ceFitPurpleE,ceFitPurpleI,'#8e2aa0',5.5,'ce3d-fit-u0');
addSeries(gA,axA,ceFitCyanE,ceFitCyanI,'#20c8d0',5.5,'ce3d-fit-u');
addSeries(gA,axA,ceFitOliveE,ceFitOliveI,'#8a8a14',5.5,'ce3d-fit-u1');
addSeries(gA,axA,ceFitRedE,ceFitRedI,'#ef2a2a',5.5,'ce3d-fit-v3');
addSeries(gA,axA,ceFitOrange2E,ceFitOrange2I,'#ff7a14',5.5,'ce3d-fit-u2');
addSeries(gA,axA,ceFitNavyE,ceFitNavyI,'#001a70',5.5,'ce3d-fit-u3');
drawAxes(gA,axA,ceMajorTicks,ceMinorTicks,ceYMajor,ceYMinor,1499,27,'a');

addSeries(gB,axB,oE1000,oI1000,'#0000ff',4.8,'o1s-series-1000c');
addSeries(gB,axB,oE800,oI800,'#ff0000',4.8,'o1s-series-800c');
addSeries(gB,axB,oE600,oI600,'#00f000',4.8,'o1s-series-600c');
addSeries(gB,axB,oE400,oI400,'#000000',4.8,'o1s-series-400c');
oPeakE.forEach((e,i)=>addLine(gB,axB.x(e),axB.y(oPeakTop[i]),axB.x(e),axB.y(oPeakBottom[i]),5,'o1s-peak-marker','29 24'));
addSeries(gB,axB,oBaseE,oBaseI,'#000000',4.8,'o1s-fit-background');
addSeries(gB,axB,oFitOrangeE,oFitOrangeI,'#ff8a1e',4.8,'o1s-fit-h2o');
addSeries(gB,axB,oFitPinkE,oFitPinkI,'#f0148c',4.8,'o1s-fit-latt');
addSeries(gB,axB,oFitMaroonE,oFitMaroonI,'#6b0a14',4.8,'o1s-fit-oh');
drawAxes(gB,axB,oMajorTicks,oMinorTicks,oYMajor,oYMinor,1501,27,'b');
</script>
</body>
</html>
